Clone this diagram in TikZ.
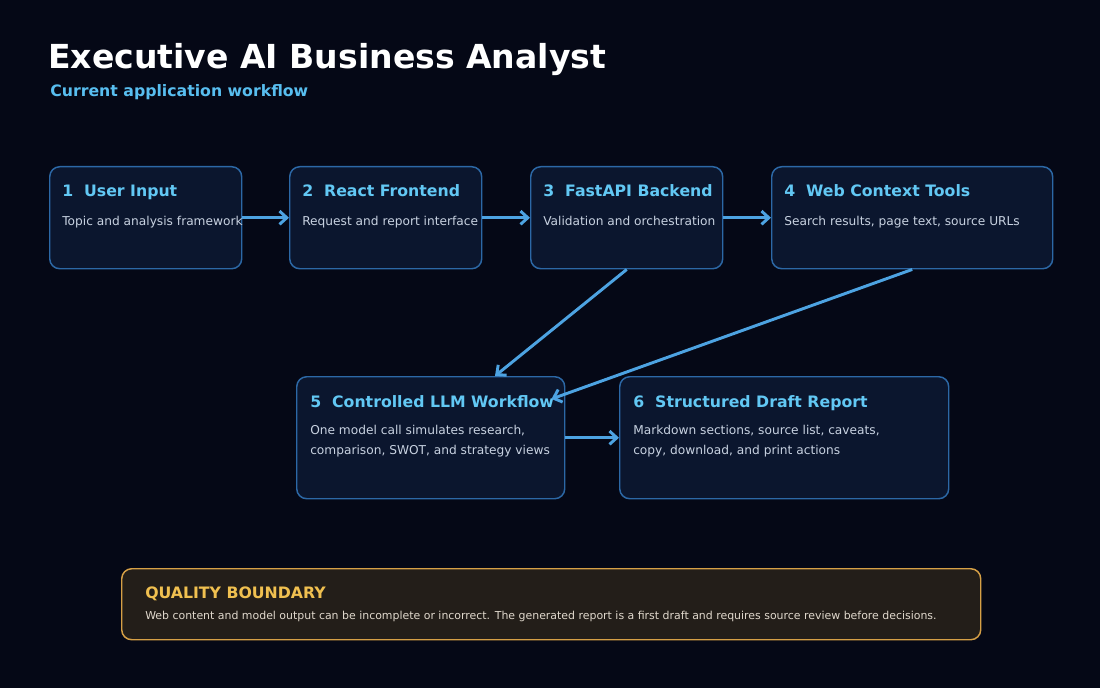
\documentclass[tikz,border=0pt]{standalone}
\usepackage{fontspec}
\setmainfont{DejaVu Sans}
\usetikzlibrary{arrows.meta,calc}
\definecolor{bgcol}{HTML}{050816}
\definecolor{cardfill}{HTML}{0B162E}
\definecolor{cardline}{HTML}{2C68A6}
\definecolor{titleblue}{HTML}{62C8F4}
\definecolor{subblue}{HTML}{58BEF0}
\definecolor{arrowblue}{HTML}{4DA3E2}
\definecolor{bodygray}{HTML}{C8D2E1}
\definecolor{warnfill}{HTML}{231E19}
\definecolor{warnline}{HTML}{D6A046}
\definecolor{warntitle}{HTML}{F0C050}
\definecolor{warntext}{HTML}{E0D8CC}
\begin{document}
\begin{tikzpicture}[x=0.75pt, y=-0.75pt,
        >={Straight Barb[length=5.5pt,width=10pt]},
        card/.style={draw=cardline, fill=cardfill, line width=1.1pt, rounded corners=7.5pt,
            anchor=north west, inner sep=0pt, minimum height=76.5pt},
        cardtitle/.style={anchor=base west, inner sep=0pt, text=titleblue,
            font=\fontsize{11.8}{14}\selectfont\bfseries},
        cardtext/.style={anchor=base west, inner sep=0pt, text=bodygray, align=left,
            font=\fontsize{9.15}{14.6}\selectfont},
        flow/.style={->, draw=arrowblue, line width=2.2pt}]
    \fill[bgcol] (0,0) rectangle (1100,688);

    % Heading
    \node[anchor=base west, inner sep=0pt, text=white, font=\fontsize{24.8}{28}\selectfont\bfseries]
        (heading) at (48,69) {Executive AI Business Analyst};
    \node[anchor=base west, inner sep=0pt, text=subblue, font=\fontsize{11.8}{14}\selectfont\bfseries]
        (subheading) at (50,97) {Current application workflow};

    % First row
    \node[card, minimum width=144pt] (user) at (49,166) {};
    \node[cardtitle] (usertitle) at ($(user.north west)+(13,31)$) {1\ \ User Input};
    \node[cardtext] (usertext) at ($(user.north west)+(13,59)$) {Topic and analysis framework};

    \node[card, minimum width=144pt] (front) at (289,166) {};
    \node[cardtitle] (fronttitle) at ($(front.north west)+(13,31)$) {2\ \ React Frontend};
    \node[cardtext] (fronttext) at ($(front.north west)+(13,59)$) {Request and report interface};

    \node[card, minimum width=144pt] (back) at (530,166) {};
    \node[cardtitle] (backtitle) at ($(back.north west)+(13,31)$) {3\ \ FastAPI Backend};
    \node[cardtext] (backtext) at ($(back.north west)+(13,59)$) {Validation and orchestration};

    \node[card, minimum width=210.75pt] (web) at (771,166) {};
    \node[cardtitle] (webtitle) at ($(web.north west)+(13,31)$) {4\ \ Web Context Tools};
    \node[cardtext] (webtext) at ($(web.north west)+(13,59)$) {Search results, page text, source URLs};

    % Second row (base of a two-line text sits on its last line)
    \node[card, minimum width=201pt, minimum height=91.5pt] (llm) at (296,376) {};
    \node[cardtitle] (llmtitle) at ($(llm.north west)+(14,31)$) {5\ \ Controlled LLM Workflow};
    \node[cardtext] (llmtext) at ($(llm.north west)+(14,78)$)
        {One model call simulates research,\\comparison, SWOT, and strategy views};

    \node[card, minimum width=246.75pt, minimum height=91.5pt] (report) at (619,376) {};
    \node[cardtitle] (reporttitle) at ($(report.north west)+(14,31)$) {6\ \ Structured Draft Report};
    \node[cardtext] (reporttext) at ($(report.north west)+(14,78)$)
        {Markdown sections, source list, caveats,\\copy, download, and print actions};

    % Quality note
    \node[card, draw=warnline, fill=warnfill, minimum width=644.25pt, minimum height=53.25pt]
        (quality) at (121,568) {};
    \node[cardtitle, text=warntitle] (qualitytitle) at ($(quality.north west)+(24,30)$) {QUALITY BOUNDARY};
    \node[cardtext, text=warntext, font=\fontsize{8.2}{10}\selectfont] (qualitytext)
        at ($(quality.north west)+(24,51)$)
        {Web content and model output can be incomplete or incorrect. The generated report is a first draft and requires source review before decisions.};

    % Arrows
    \draw[flow] (user.east) -- (front.west);
    \draw[flow] (front.east) -- (back.west);
    \draw[flow] (back.east) -- (web.west);
    \draw[flow] (back.south) -- ($(llm.north west)+(199,0)$);
    \draw[flow] (web.south) -- ($(llm.north east)+(-14,23)$);
    \draw[flow] (llm.east) -- (report.west);
\end{tikzpicture}
\end{document}
